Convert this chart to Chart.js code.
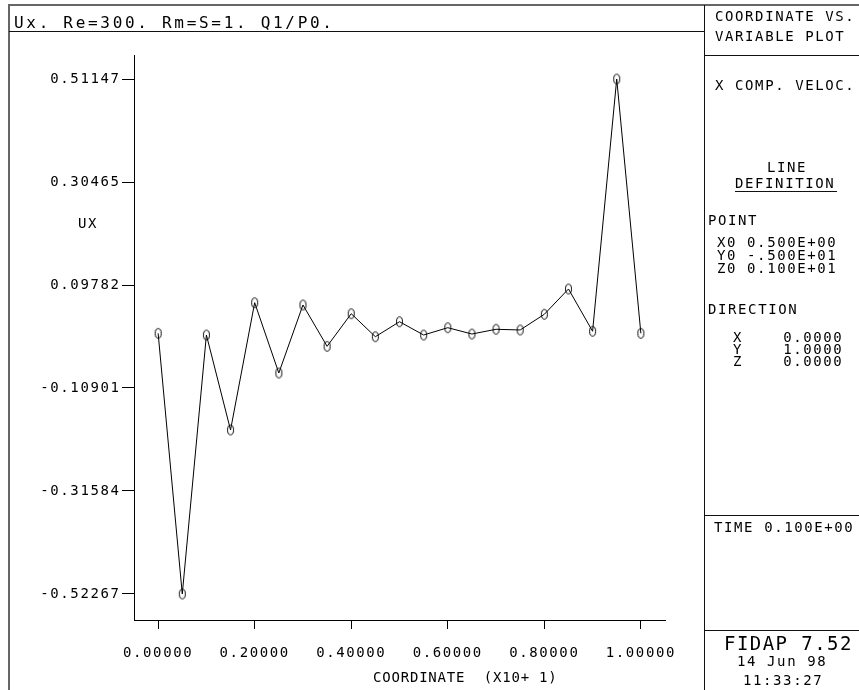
<!DOCTYPE html>
<html>
<head>
<meta charset="utf-8">
<script src="https://cdn.jsdelivr.net/npm/chart.js@4"></script>
<style>
  body { margin: 0; background: #fff; }
  #wrap { position: relative; width: 859px; height: 690px; overflow: hidden; }
  #plot { position: absolute; left: 0; top: 0; }
  .t { position: absolute; font-family: "DejaVu Sans Mono", monospace; font-size: 14px; line-height: 14px;
       letter-spacing: 1.6px; color: #000; white-space: pre; }
  .ln { position: absolute; background: #111; }
</style>
</head>
<body>
<div id="wrap">
  <canvas id="plot" width="859" height="690"></canvas>

  <!-- frame and panel lines -->
  <div style="position:absolute;left:8px;top:4px;width:900px;height:800px;border:2px solid #666;"></div>
  <div class="ln" style="left:9px;top:31px;width:695px;height:1px;"></div>
  <div class="ln" style="left:704px;top:5px;width:1px;height:690px;"></div>
  <div class="ln" style="left:704px;top:55px;width:160px;height:1px;"></div>
  <div class="ln" style="left:704px;top:515px;width:160px;height:1px;"></div>
  <div class="ln" style="left:704px;top:630px;width:160px;height:1px;"></div>
  <div class="ln" style="left:735px;top:191px;width:102px;height:1px;"></div>

  <div class="t" style="left:14px;top:14.5px;font-size:16px;line-height:16px;letter-spacing:2.7px;">Ux. Re=300. Rm=S=1. Q1/P0.</div>
  <div class="t" style="left:715px;top:9.2px;">COORDINATE VS.</div>
  <div class="t" style="left:715px;top:29.2px;">VARIABLE PLOT</div>
  <div class="t" style="left:715px;top:78.2px;">X COMP. VELOC.</div>
  <div class="t" style="left:767px;top:160.2px;">LINE</div>
  <div class="t" style="left:735px;top:176.2px;">DEFINITION</div>
  <div class="t" style="left:708px;top:213.2px;">POINT</div>
  <div class="t" style="left:717px;top:235.2px;">X0 0.500E+00</div>
  <div class="t" style="left:717px;top:248px;">Y0 -.500E+01</div>
  <div class="t" style="left:717px;top:261px;">Z0 0.100E+01</div>
  <div class="t" style="left:708px;top:302.2px;">DIRECTION</div>
  <div class="t" style="left:733px;top:330.2px;">X    0.0000</div>
  <div class="t" style="left:733px;top:342.2px;">Y    1.0000</div>
  <div class="t" style="left:733px;top:354.2px;">Z    0.0000</div>
  <div class="t" style="left:714px;top:520.2px;">TIME 0.100E+00</div>
  <div class="t" style="left:724px;top:633.9px;font-size:19px;line-height:19px;letter-spacing:1.45px;">FIDAP 7.52</div>
  <div class="t" style="left:737px;top:654.2px;">14 Jun 98</div>
  <div class="t" style="left:743px;top:673.2px;">11:33:27</div>
  <div class="t" style="left:78px;top:216.2px;">UX</div>
  <div class="t" style="left:373px;top:670.2px;letter-spacing:0.8px;">COORDINATE  (X10+ 1)</div>
</div>

<script>
// line probe along Y at X0=0.5, Z0=1
const coords = [0.00, 0.05, 0.10, 0.15, 0.20, 0.25, 0.30, 0.35, 0.40, 0.45, 0.50,
                0.55, 0.60, 0.65, 0.70, 0.75, 0.80, 0.85, 0.90, 0.95, 1.00];
const ux = [0.0008, -0.52267, -0.0026, -0.1933, 0.0623, -0.0789, 0.0577, -0.0253, 0.0402, -0.0060, 0.0241,
            -0.0026, 0.0121, -0.0006, 0.0089, 0.0075, 0.0390, 0.0898, 0.0049, 0.51147, 0.0008];

const xTickValues = [0, 0.2, 0.4, 0.6, 0.8, 1.0];
const xTickLabels = ["0.00000", "0.20000", "0.40000", "0.60000", "0.80000", "1.00000"];
const yTickValues = [-0.52267, -0.31584, -0.10901, 0.09782, 0.30465, 0.51147];
const yTickLabels = ["-0.52267", "-0.31584", "-0.10901", "0.09782", "0.30465", "0.51147"];

// "0"-shaped plot marker
const marker = document.createElement("canvas");
marker.width = 9;
marker.height = 13;
const mctx = marker.getContext("2d");
mctx.strokeStyle = "#000";
mctx.lineWidth = 1;
mctx.beginPath();
mctx.ellipse(4.5, 6.5, 3, 4.8, 0, 0, Math.PI * 2);
mctx.stroke();

const spacing = {
  id: "spacing",
  beforeDraw: (chart) => { chart.ctx.letterSpacing = "1.6px"; },
};

const tickFont = { family: "DejaVu Sans Mono", size: 14 };

new Chart(document.getElementById("plot"), {
  type: "line",
  data: {
    datasets: [{
      data: coords.map((x, i) => ({ x: x, y: ux[i] })),
      borderColor: "#000",
      borderWidth: 1,
      tension: 0,
      pointStyle: marker,
      pointRadius: 5,
      clip: false,
    }],
  },
  options: {
    responsive: false,
    animation: false,
    events: [],
    layout: { padding: { top: 55, right: 194, left: 0, bottom: 0 } },
    plugins: { legend: { display: false }, tooltip: { enabled: false } },
    scales: {
      x: {
        type: "linear",
        min: -0.05,
        max: 1.05,
        afterFit: (s) => { s.height = 70; },
        afterBuildTicks: (s) => { s.ticks = xTickValues.map((v) => ({ value: v })); },
        grid: { drawOnChartArea: false, drawTicks: true, tickLength: 9, color: "#000" },
        border: { display: true, color: "#000", width: 1 },
        ticks: {
          font: tickFont,
          color: "#000",
          padding: 16,
          maxRotation: 0,
          autoSkip: false,
          callback: (v, i) => xTickLabels[i],
        },
      },
      y: {
        min: -0.5749,
        max: 0.5597,
        afterFit: (s) => { s.width = 134; },
        afterBuildTicks: (s) => { s.ticks = yTickValues.map((v) => ({ value: v })); },
        grid: { drawOnChartArea: false, drawTicks: true, tickLength: 12, color: "#000" },
        border: { display: true, color: "#000", width: 1 },
        ticks: {
          font: tickFont,
          color: "#000",
          padding: 1.5,
          autoSkip: false,
          callback: (v, i) => yTickLabels[i],
        },
      },
    },
  },
  plugins: [spacing],
});
</script>
</body>
</html>
